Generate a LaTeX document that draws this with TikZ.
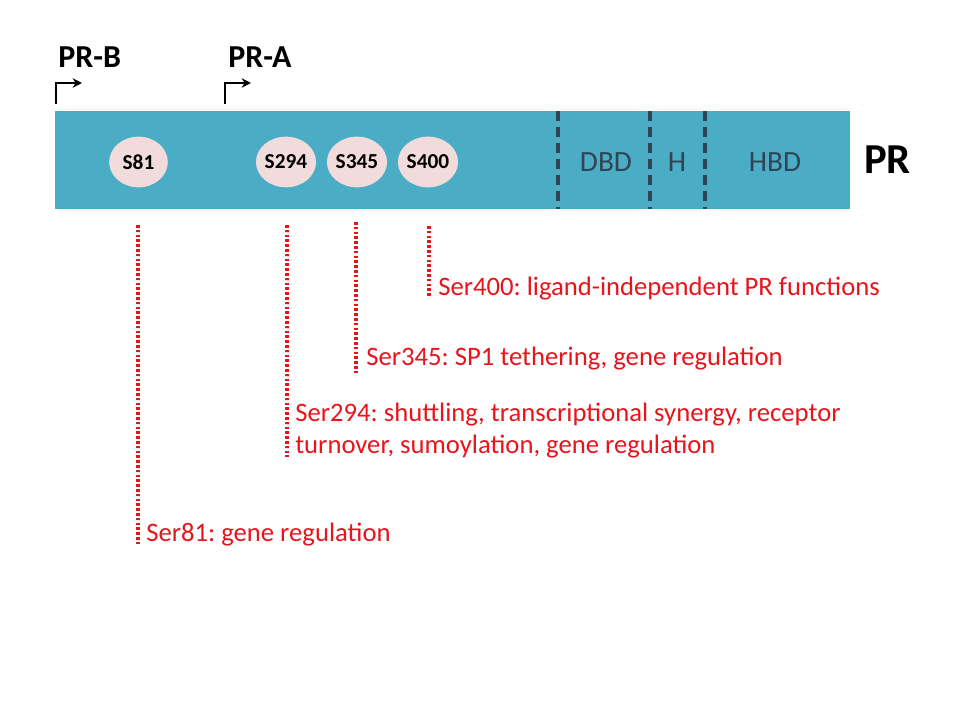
\documentclass[tikz,border=0pt]{standalone}
\usepackage{fontspec}
\setmainfont{Carlito}
\usetikzlibrary{shapes.geometric,arrows.meta}
\definecolor{barblue}{HTML}{4BACC6}
\definecolor{sitepink}{HTML}{F2DCDB}
\definecolor{domtext}{HTML}{2F4554}
\definecolor{linered}{HTML}{E8141C}
\frenchspacing
\begin{document}
\begin{tikzpicture}[x=0.75pt,y=-0.75pt,
  site/.style={ellipse,fill=sitepink,minimum width=44pt,minimum height=38pt,inner sep=0pt,font=\fontsize{16}{18}\selectfont\bfseries},
  domlabel/.style={font=\fontsize{22}{26}\selectfont,text=domtext},
  divider/.style={draw=domtext,line width=2.4pt,dash pattern=on 7.5pt off 4.5pt},
  func/.style={anchor=west,text=linered,font=\fontsize{20}{24}\selectfont,inner sep=0pt,align=left},
  tether/.style={draw=linered,line width=2.6pt,dash pattern=on 2pt off 1.6pt},
  promoter/.style={draw=black,line width=2pt,-{Stealth[length=7pt,width=7pt]}},
  plabel/.style={anchor=west,font=\fontsize{24}{28}\selectfont\bfseries,inner sep=0pt}]
\useasboundingbox (0,0) rectangle (960,720);
% bar
\node[fill=barblue,minimum width=596pt,minimum height=73.5pt,inner sep=0pt,anchor=north west] (bar) at (55,111) {};
\node[font=\fontsize{32}{36}\selectfont\bfseries,anchor=west,inner sep=0pt] (pr) at (864,160) {PR};
% sites
\node[site] (s81) at (138.5,162) {S81};
\node[site] (s294) at (286,162) {S294};
\node[site] (s345) at (357,162) {S345};
\node[site] (s400) at (428,162) {S400};
% domain dividers
\coordinate (d1t) at (558,111); \coordinate (d1b) at (558,209);
\coordinate (d2t) at (650,111); \coordinate (d2b) at (650,209);
\coordinate (d3t) at (705,111); \coordinate (d3b) at (705,209);
\draw[divider] (d1t) -- (d1b);
\draw[divider] (d2t) -- (d2b);
\draw[divider] (d3t) -- (d3b);
\node[domlabel] (dbd) at (606,162) {DBD};
\node[domlabel] (h) at (677,162) {H};
\node[domlabel] (hbd) at (775,162) {HBD};
% promoters
\node[plabel] (prb) at (58,57) {PR-B};
\node[plabel] (pra) at (228,57) {PR-A};
\coordinate (pbs) at (56,104); \coordinate (pbc) at (56,83); \coordinate (pbe) at (82,83);
\coordinate (pas) at (225,104); \coordinate (pac) at (225,83); \coordinate (pae) at (251,83);
\draw[promoter] (pbs) -- (pbc) -- (pbe);
\draw[promoter] (pas) -- (pac) -- (pae);
% functions
\node[func] (f400) at (438,289) {Ser400: ligand-independent PR functions};
\node[func] (f345) at (366,359) {Ser345: SP1 tethering, gene regulation};
\node[func] (f294) at (295,431) {Ser294: shuttling, transcriptional synergy, receptor\\turnover, sumoylation, gene regulation};
\node[func] (f81) at (146,535) {Ser81: gene regulation};
\coordinate (t81a) at (138,225); \coordinate (t81b) at (138,544);
\coordinate (t294a) at (287,225); \coordinate (t294b) at (287,457);
\coordinate (t345a) at (356,222); \coordinate (t345b) at (356,373);
\coordinate (t400a) at (429,226); \coordinate (t400b) at (429,298);
\draw[tether] (t81a) -- (t81b);
\draw[tether] (t294a) -- (t294b);
\draw[tether] (t345a) -- (t345b);
\draw[tether] (t400a) -- (t400b);
\end{tikzpicture}
\end{document}
